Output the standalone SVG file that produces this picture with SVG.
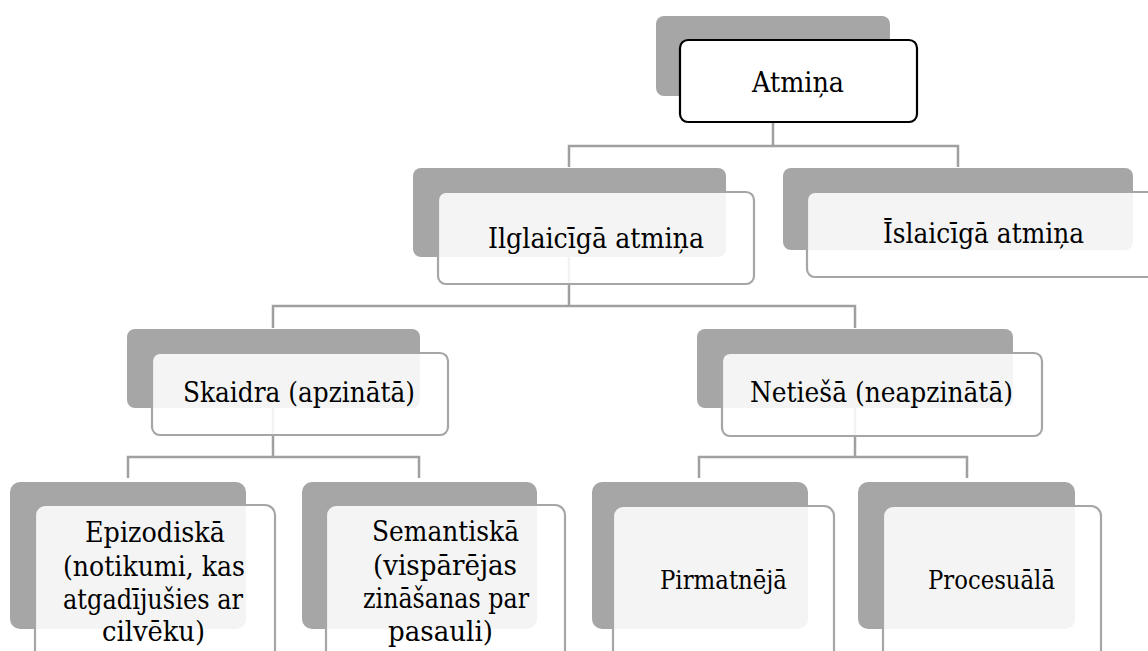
<svg xmlns="http://www.w3.org/2000/svg" width="1148" height="651" viewBox="0 0 1148 651">
<style>
.bk{fill:#a6a6a6}
.fr{fill:#ffffff;fill-opacity:0.87;stroke:#a6a6a6;stroke-width:2.2}
.root{fill:#ffffff;stroke:#000000;stroke-width:2.2}
.c{fill:none;stroke:#a0a0a0;stroke-width:2.5}
</style>
<rect width="1148" height="651" fill="#ffffff"/>
<g id="connectors">
<path class="c" d="M773 96V146M569 167V146H958V167"/>
<path class="c" d="M569 257V306M273 328V306H855V328"/>
<path class="c" d="M273 408V457M128 478V457H419V478"/>
<path class="c" d="M855 408V457M699 478V457H967V478"/>
</g>
<g font-family="'DejaVu Serif', 'Liberation Serif', serif" font-size="28" fill="#000000" text-anchor="middle" lengthAdjust="spacingAndGlyphs">
<g id="n-atmina">
<rect class="bk" x="656" y="16" width="234" height="80" rx="8"/>
<rect class="root" x="680" y="40" width="237" height="82" rx="8"/>
<text x="798" y="92" textLength="92" lengthAdjust="spacingAndGlyphs">Atmiņa</text>
</g>
<g id="n-ilglaiciga">
<rect class="bk" x="413" y="168" width="313" height="89" rx="8"/>
<rect class="fr" x="438" y="192" width="316" height="92" rx="8"/>
<text x="596" y="248" textLength="216" lengthAdjust="spacingAndGlyphs">Ilglaicīgā atmiņa</text>
</g>
<g id="n-islaiciga">
<rect class="bk" x="783" y="168" width="350" height="82" rx="8"/>
<rect class="fr" x="807" y="192" width="353" height="85" rx="8"/>
<text x="983.5" y="243" textLength="201" lengthAdjust="spacingAndGlyphs">Īslaicīgā atmiņa</text>
</g>
<g id="n-skaidra">
<rect class="bk" x="127" y="329" width="293" height="79" rx="8"/>
<rect class="fr" x="152" y="353" width="296" height="82" rx="8"/>
<text x="299" y="402" textLength="232" lengthAdjust="spacingAndGlyphs">Skaidra (apzinātā)</text>
</g>
<g id="n-netiesa">
<rect class="bk" x="697" y="329" width="316" height="79" rx="8"/>
<rect class="fr" x="722" y="353" width="320" height="83" rx="8"/>
<text x="881.5" y="402" textLength="263" lengthAdjust="spacingAndGlyphs">Netiešā (neapzinātā)</text>
</g>
<g id="n-epizodiska">
<rect class="bk" x="10" y="482" width="236" height="147" rx="10"/>
<rect class="fr" x="35" y="505" width="240" height="160" rx="10"/>
<text x="155" y="542" textLength="140" lengthAdjust="spacingAndGlyphs">Epizodiskā</text>
<text x="154" y="576" textLength="182" lengthAdjust="spacingAndGlyphs">(notikumi, kas</text>
<text x="153" y="609" textLength="180" lengthAdjust="spacingAndGlyphs">atgadījušies ar</text>
<text x="153.5" y="641" textLength="103" lengthAdjust="spacingAndGlyphs">cilvēku)</text>
</g>
<g id="n-semantiska">
<rect class="bk" x="302" y="482" width="235" height="147" rx="10"/>
<rect class="fr" x="326" y="505" width="239" height="160" rx="10"/>
<text x="445.5" y="541" textLength="147" lengthAdjust="spacingAndGlyphs">Semantiskā</text>
<text x="445" y="575" textLength="144" lengthAdjust="spacingAndGlyphs">(vispārējas</text>
<text x="446" y="608" textLength="166" lengthAdjust="spacingAndGlyphs">zināšanas par</text>
<text x="440.5" y="641" textLength="105" lengthAdjust="spacingAndGlyphs">pasauli)</text>
</g>
<g id="n-pirmatneja">
<rect class="bk" x="592" y="482" width="216" height="147" rx="10"/>
<rect class="fr" x="613" y="506" width="221" height="160" rx="10"/>
<text x="723.5" y="589" font-size="26" textLength="127" lengthAdjust="spacingAndGlyphs">Pirmatnējā</text>
</g>
<g id="n-procesuala">
<rect class="bk" x="858" y="482" width="217" height="147" rx="10"/>
<rect class="fr" x="883" y="506" width="218" height="160" rx="10"/>
<text x="991.5" y="589" font-size="26" textLength="127" lengthAdjust="spacingAndGlyphs">Procesuālā</text>
</g>
</g>
</svg>
